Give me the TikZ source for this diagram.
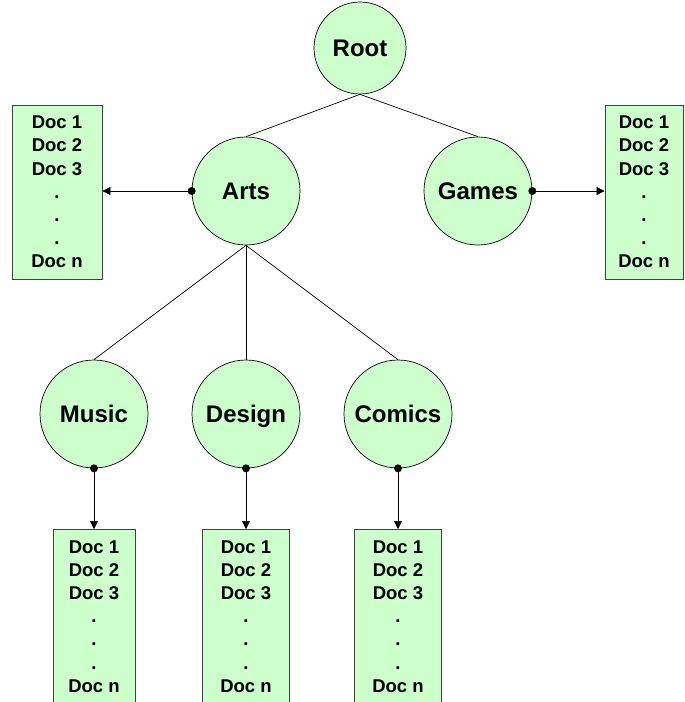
\documentclass[tikz,border=0pt]{standalone}
\usepackage{fontspec}
\setmainfont{Liberation Sans}
\usetikzlibrary{arrows.meta}
\definecolor{lgreen}{HTML}{CCFFCC}
\begin{document}
\begin{tikzpicture}[x=1pt,y=-1pt,
  cnode/.style={circle,draw=black,fill=lgreen,minimum size=108pt,inner sep=0pt,line width=0.7pt,
    text height=19pt,text depth=2pt,
    font=\fontsize{24}{28}\selectfont\bfseries},
  docbox/.style={rectangle,draw=black!75,fill=lgreen,minimum height=174pt,inner sep=0pt,line width=0.8pt,
    align=center,font=\fontsize{18.5}{23.2}\selectfont\bfseries},
  link/.style={line width=0.7pt},
  arr/.style={line width=0.7pt,-{Triangle[length=8pt,width=8pt]}},
  dotnode/.style={circle,fill=black,inner sep=0pt,minimum size=8pt}]
\useasboundingbox (0,0) rectangle (685,702);
\newcommand{\doclist}{Doc 1\\Doc 2\\Doc 3\\.\\.\\.\\Doc n}
% tree nodes
\node[cnode,minimum size=92pt] (root) at (360,48) {Root};
\node[cnode] (arts) at (246,191) {Arts};
\node[cnode] (games) at (478,191) {Games};
\node[cnode] (music) at (94,414) {Music};
\node[cnode] (design) at (246,414) {Design};
\node[cnode] (comics) at (398,414) {Comics};
% document boxes
\node[docbox,minimum width=90pt] (lbox) at (57,192) {\doclist};
\node[docbox,minimum width=78pt] (rbox) at (644,192) {\doclist};
\node[docbox,minimum width=82pt,anchor=north] (mbox) at (94,529) {\doclist};
\node[docbox,minimum width=87pt,anchor=north] (dbox) at (246,529) {\doclist};
\node[docbox,minimum width=87pt,anchor=north] (cbox) at (398,529) {\doclist};
% tree links
\draw[link] (root.south) -- (arts.north);
\draw[link] (root.south) -- (games.north);
\draw[link] (arts.south) -- (music.north);
\draw[link] (arts.south) -- (design.north);
\draw[link] (arts.south) -- (comics.north);
% dots and arrows
\node[dotnode] (adot) at (arts.west) {};
\node[dotnode] (gdot) at (games.east) {};
\node[dotnode] (mdot) at (music.south) {};
\node[dotnode] (ddot) at (design.south) {};
\node[dotnode] (cdot) at (comics.south) {};
\draw[arr] (adot.center) -- (adot.center -| lbox.east);
\draw[arr] (gdot.center) -- (gdot.center -| rbox.west);
\draw[arr] (mdot.center) -- (mbox.north);
\draw[arr] (ddot.center) -- (dbox.north);
\draw[arr] (cdot.center) -- (cbox.north);
\end{tikzpicture}
\end{document}
